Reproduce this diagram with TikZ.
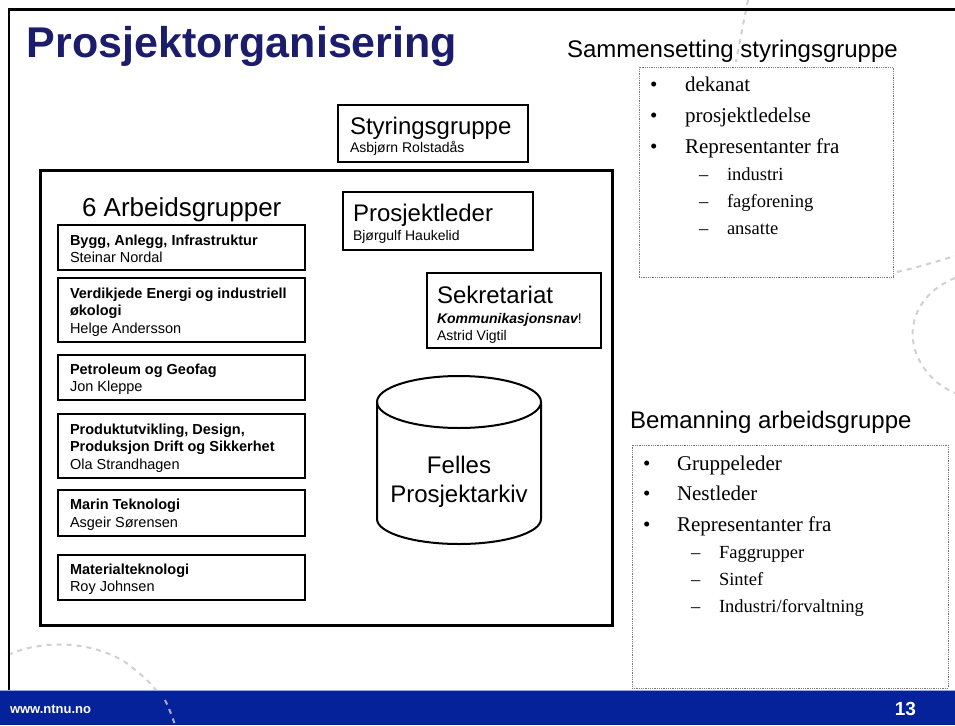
\documentclass[tikz,border=0pt]{standalone}
\usepackage{fontspec}
\setmainfont{Liberation Sans}
\newfontfamily\serifface{Liberation Serif}

\definecolor{titlenavy}{RGB}{28,28,108}
\definecolor{barblue}{RGB}{6,34,154}
\definecolor{barline}{RGB}{150,170,225}
\definecolor{decogrey}{RGB}{208,208,208}
\definecolor{dotgrey}{RGB}{120,120,120}

\newcommand{\fs}[1]{\fontsize{#1}{#1}\selectfont}

\tikzset{
  every node/.style={inner sep=0pt, outer sep=0pt},
  plainbox/.style={draw, line width=1.1pt, anchor=north west},
  gbox/.style={draw, line width=1.3pt, anchor=north west, minimum width=247pt},
  bigframe/.style={draw, line width=3pt, anchor=north west},
  dotbox/.style={draw=dotgrey, line width=0.8pt, densely dotted, anchor=north west},
  gtitle/.style={anchor=base west, font=\fs{14.5}\bfseries},
  gname/.style={anchor=base west, font=\fs{14.5}},
  headtxt/.style={anchor=base west, font=\fs{24}},
  smallname/.style={anchor=base west, font=\fs{14}},
  sidehead/.style={anchor=base west, font=\fs{24}},
  bul/.style={anchor=base west, font=\serifface\fs{21}},
  subbul/.style={anchor=base west, font=\serifface\fs{18.5}},
  deco/.style={draw=decogrey, line width=2pt, dash pattern=on 5pt off 5pt},
  cyl/.style={draw, line width=2pt}
}

\begin{document}
\begin{tikzpicture}[x=1pt, y=-1pt]
\useasboundingbox (0,0) rectangle (955,725);
\fill[white] (0,0) rectangle (955,725);

% decorative dashed arcs in the background
\draw[deco] (748,0) .. controls (744,20) and (740,40) .. (736,62);
\draw[deco] (897,272) .. controls (915,268) and (935,262) .. (955,256);
\draw[deco] (955,278) .. controls (925,290) and (910,315) .. (913,340)
                    .. controls (916,365) and (935,385) .. (955,393);
\draw[deco] (8,655) .. controls (40,640) and (90,640) .. (125,662)
                  .. controls (150,680) and (168,700) .. (175,725);

% slide frame
\draw[line width=2.2pt] (955,9.5) -- (9,9.5) -- (9,690);

% title
\node[anchor=base west, font=\fs{43}\bfseries, text=titlenavy] (title) at (27,58) {Prosjektorganisering};

% steering group
\node[plainbox, minimum width=190pt, minimum height=57pt] (styr) at (338,105) {};
\node[headtxt] (styrT) at (350,134) {Styringsgruppe};
\node[smallname] (styrN) at (350,152) {Asbjørn Rolstadås};

% project frame
\node[bigframe, minimum width=572pt, minimum height=455pt] (proj) at (40,170) {};
\node[anchor=base west, font=\fs{26}] (arbT) at (82,216) {6 Arbeidsgrupper};

% project leader
\node[plainbox, minimum width=190pt, minimum height=58pt] (pl) at (343,192) {};
\node[headtxt] (plT) at (353,221) {Prosjektleder};
\node[smallname] (plN) at (353,240) {Bjørgulf Haukelid};

% secretariat
\node[plainbox, minimum width=174pt, minimum height=75pt] (sek) at (427,273) {};
\node[headtxt] (sekT) at (437,303) {Sekretariat};
\node[smallname] (sekK) at (437,323) {\bfseries\itshape Kommunikasjonsnav\normalfont\mdseries!};
\node[smallname] (sekN) at (437,340) {Astrid Vigtil};

% shared project archive
\draw[cyl] (377,402) -- (377,519) arc[start angle=180, end angle=360, x radius=82pt, y radius=25pt] -- (541,402);
\draw[cyl] (459,402) ellipse[x radius=82pt, y radius=26pt];
\node[align=center, font=\fontsize{24}{29}\selectfont] (arkiv) at (459,482) {Felles\\Prosjektarkiv};

% working groups
\node[gbox, minimum height=45pt] (g1) at (58,225) {};
\node[gtitle] (g1T) at (70,245) {Bygg, Anlegg, Infrastruktur};
\node[gname] (g1N) at (70,262) {Steinar Nordal};

\node[gbox, minimum height=64pt] (g2) at (58,278) {};
\node[gtitle] (g2T) at (70,298) {Verdikjede Energi og industriell};
\node[gtitle] (g2U) at (70,315.5) {økologi};
\node[gname] (g2N) at (70,333) {Helge Andersson};

\node[gbox, minimum height=45pt] (g3) at (58,355) {};
\node[gtitle] (g3T) at (70,374) {Petroleum og Geofag};
\node[gname] (g3N) at (70,391) {Jon Kleppe};

\node[gbox, minimum height=64pt] (g4) at (58,414) {};
\node[gtitle] (g4T) at (70,434) {Produktutvikling, Design,};
\node[gtitle] (g4U) at (70,451.5) {Produksjon Drift og Sikkerhet};
\node[gname] (g4N) at (70,469) {Ola Strandhagen};

\node[gbox, minimum height=46pt] (g5) at (58,490) {};
\node[gtitle] (g5T) at (70,509) {Marin Teknologi};
\node[gname] (g5N) at (70,527) {Asgeir Sørensen};

\node[gbox, minimum height=45pt] (g6) at (58,555) {};
\node[gtitle] (g6T) at (70,574) {Materialteknologi};
\node[gname] (g6N) at (70,591) {Roy Johnsen};

% composition of the steering group
\node[sidehead] (samT) at (567,57) {Sammensetting styringsgruppe};
\node[dotbox, minimum width=254pt, minimum height=210pt] (sam) at (639,67) {};
\node[bul] (s1b) at (650,92) {•};  \node[bul] (s1) at (685,92) {dekanat};
\node[bul] (s2b) at (650,122) {•}; \node[bul] (s2) at (685,122) {prosjektledelse};
\node[bul] (s3b) at (650,153) {•}; \node[bul] (s3) at (685,153) {Representanter fra};
\node[subbul] (s4b) at (699,180) {–}; \node[subbul] (s4) at (727,180) {industri};
\node[subbul] (s5b) at (699,207) {–}; \node[subbul] (s5) at (727,207) {fagforening};
\node[subbul] (s6b) at (699,234) {–}; \node[subbul] (s6) at (727,234) {ansatte};

% staffing of a working group
\node[sidehead] (bemT) at (630,428) {Bemanning arbeidsgruppe};
\node[dotbox, minimum width=316pt, minimum height=243pt] (bem) at (632,445) {};
\node[bul] (b1b) at (643,470) {•};  \node[bul] (b1) at (677,470) {Gruppeleder};
\node[bul] (b2b) at (643,500) {•};  \node[bul] (b2) at (677,500) {Nestleder};
\node[bul] (b3b) at (643,531) {•};  \node[bul] (b3) at (677,531) {Representanter fra};
\node[subbul] (b4b) at (691,558) {–}; \node[subbul] (b4) at (719,558) {Faggrupper};
\node[subbul] (b5b) at (691,585) {–}; \node[subbul] (b5) at (719,585) {Sintef};
\node[subbul] (b6b) at (691,612) {–}; \node[subbul] (b6) at (719,612) {Industri/forvaltning};

% footer bar
\fill[barblue] (0,690) rectangle (955,725);
\draw[barline, line width=1.2pt] (0,690.5) -- (955,690.5);
\draw[deco, draw=decogrey!80!barblue] (165,700) .. controls (169,708) and (172,716) .. (175,725);
\node[anchor=base west, font=\fs{13}\bfseries, text=white] (url) at (10,713) {www.ntnu.no};
\node[anchor=base east, font=\fs{19}\bfseries, text=white] (page) at (916,715) {13};
\end{tikzpicture}
\end{document}
